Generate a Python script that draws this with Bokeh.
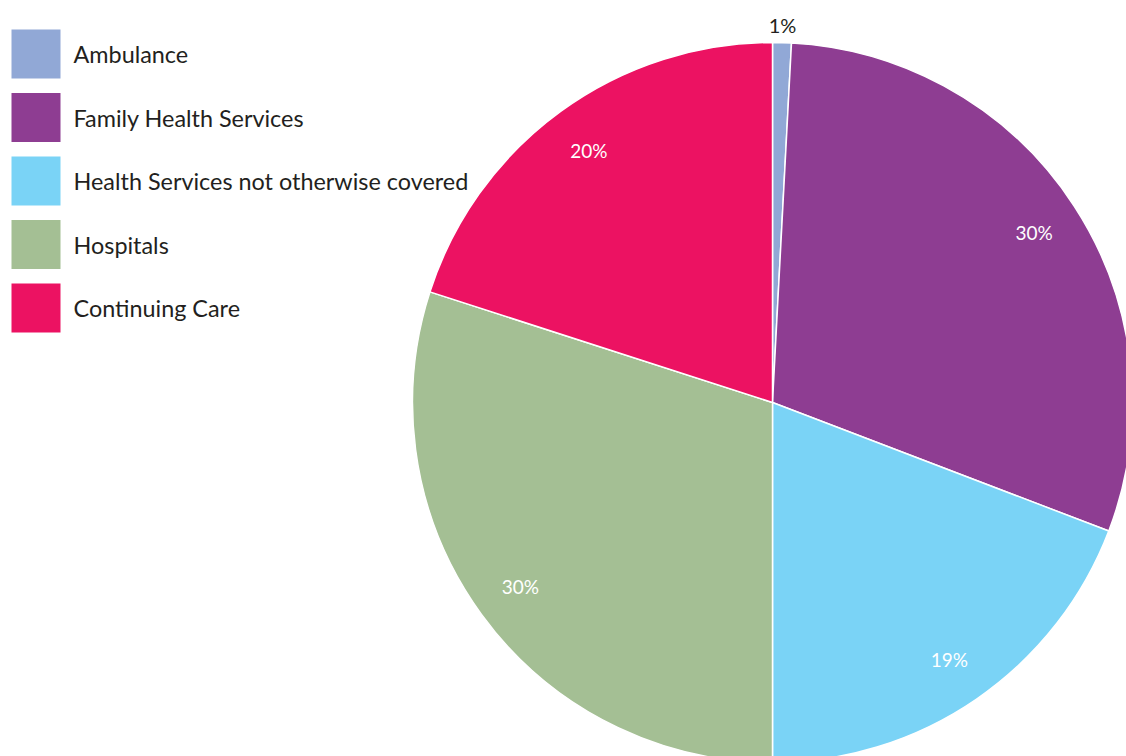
import math
from bokeh.plotting import figure
from bokeh.models import Range1d, ColumnDataSource
from bokeh.core.properties import value
from bokeh.embed import file_html
from bokeh.resources import INLINE

categories = ["Ambulance", "Family Health Services", "Health Services not otherwise covered",
              "Hospitals", "Continuing Care"]
values = [0.84, 29.97, 19.19, 29.97, 20.03]
pct_labels = ["1%", "30%", "19%", "30%", "20%"]
colors = ["#91a8d6", "#8e3d92", "#7ad3f6", "#a4bf94", "#ec1262"]

W, H = 1126, 756
p = figure(width=W, height=H, output_backend="svg", toolbar_location=None,
           x_range=Range1d(0, W), y_range=Range1d(0, H), min_border=0)
p.axis.visible = False
p.grid.visible = False
p.outline_line_color = None
p.background_fill_color = "white"

cx, cy, r = 772, H - 402, 360
total = sum(values)
starts, ends, mids = [], [], []
acc = 0.0
for v in values:
    t0 = acc / total * 2 * math.pi
    acc += v
    t1 = acc / total * 2 * math.pi
    starts.append(math.pi / 2 - t0)
    ends.append(math.pi / 2 - t1)
    mids.append((t0 + t1) / 2)

src = ColumnDataSource(dict(start=starts, end=ends, color=colors))
p.wedge(x=cx, y=cy, radius=r, start_angle="start", end_angle="end", direction="clock",
        fill_color="color", line_color="white", line_width=1.5, source=src)

# percentage labels
lx, ly, lc, fs = [], [], [], []
for i, m in enumerate(mids):
    small = values[i] / total < 0.03
    rr = 378 if small else 312
    lx.append(cx + rr * math.sin(m))
    ly.append(cy + rr * math.cos(m))
    lc.append("#231f20" if small else "white")
    fs.append("20px" if small else "19px")
lsrc = ColumnDataSource(dict(x=lx, y=ly, t=pct_labels, c=lc, fs=fs))
p.text(x="x", y="y", text="t", text_color="c", text_align="center",
       text_baseline="middle", text_font=value("Lato"), text_font_size="fs", source=lsrc)

# legend
sq = 49
gap = 63.5
lgx, lgy, tx, ty = [], [], [], []
for i in range(len(categories)):
    top = 29 + i * gap
    lgx.append(11 + sq / 2)
    lgy.append(H - (top + sq / 2))
    tx.append(73)
    ty.append(H - (top + sq / 2))
p.rect(x=lgx, y=lgy, width=sq, height=sq, fill_color=colors, line_color=None)
p.text(x=tx, y=ty, text=categories, text_color="#231f20", text_align="left",
       text_baseline="middle", text_font=value("Lato"), text_font_size="23.4px")

open("out.html", "w").write(file_html(p, INLINE))
